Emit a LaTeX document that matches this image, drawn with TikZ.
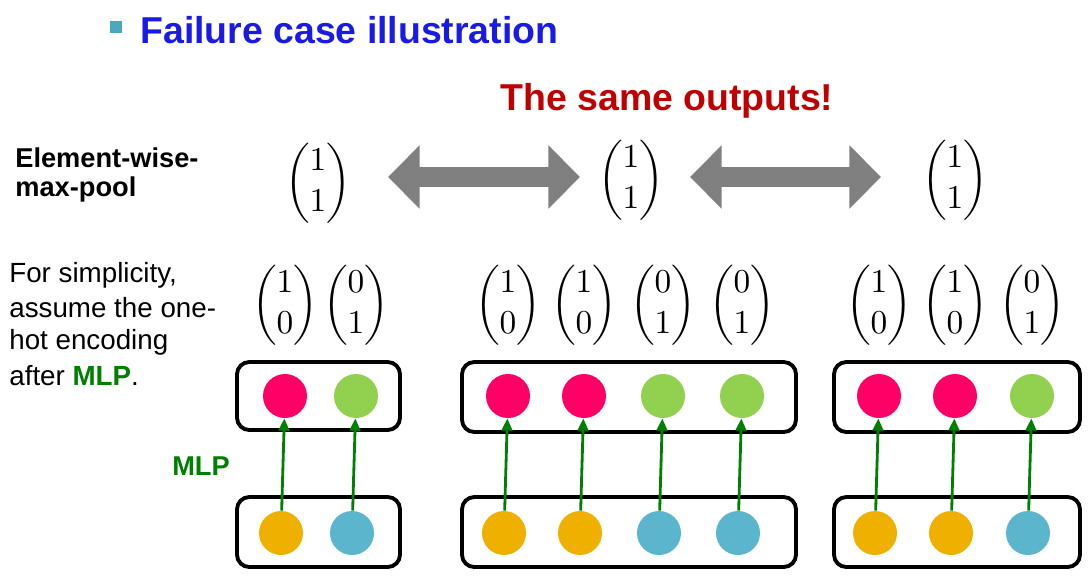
\documentclass[tikz,border=0pt]{standalone}
\usepackage{amsmath}
\usepackage{fontspec}
\setmainfont{Liberation Sans}
\usetikzlibrary{arrows.meta}
\definecolor{ttl}{HTML}{1A1AE6}
\definecolor{dred}{HTML}{C00000}
\definecolor{pk}{HTML}{FF0066}
\definecolor{gr}{HTML}{92D050}
\definecolor{og}{HTML}{F0B000}
\definecolor{bl}{HTML}{5BB5CC}
\definecolor{mlp}{HTML}{008000}
\definecolor{dar}{HTML}{808080}
\begin{document}
\begin{tikzpicture}[x=0.02cm,y=-0.02cm,
  vec/.style={inner sep=0,scale=1.9},
  box/.style={draw,line width=2.2pt,rounded corners=7pt},
  dot/.style={circle,inner sep=0,minimum size=0.88cm},
  up/.style={-{Triangle[length=7pt,width=6pt]},mlp,line width=1.6pt},
  dbl/.style={dar,line width=11pt,{Triangle[length=18pt,width=35pt]}-{Triangle[length=18pt,width=35pt]}},
  txt/.style={anchor=west,inner sep=0,font=\fontsize{15.8}{17}\selectfont}]
\useasboundingbox (0,0) rectangle (1091,583);
\fill[bl!80!teal] (110,21) rectangle (122,33);
\node[anchor=west,inner sep=0,text=ttl,font=\bfseries\fontsize{21.3}{23}\selectfont] (title) at (140,30) {Failure case illustration};
\node[text=dred,font=\bfseries\fontsize{21.3}{23}\selectfont,inner sep=0] (same) at (667,101) {The same outputs!};
\node[txt,font=\bfseries\fontsize{15.5}{17}\selectfont] (e1) at (15,158) {Element-wise-};
\node[txt,font=\bfseries\fontsize{15.5}{17}\selectfont] (e2) at (15,189) {max-pool};
\node[vec] (o1) at (318,183) {$\begin{pmatrix}1\\1\end{pmatrix}$};
\node[vec] (o2) at (631,180) {$\begin{pmatrix}1\\1\end{pmatrix}$};
\node[vec] (o3) at (955,180) {$\begin{pmatrix}1\\1\end{pmatrix}$};
\coordinate (a1) at (388,177); \coordinate (a2) at (580,177);
\coordinate (a3) at (690,177); \coordinate (a4) at (881,177);
\draw[dbl] (a1) -- (a2);
\draw[dbl] (a3) -- (a4);
\node[txt] (t1) at (9,275) {For simplicity,};
\node[txt] (t2) at (9,308) {assume the one-};
\node[txt] (t3) at (9,342) {hot encoding};
\node[txt] (t4) at (9,376) {after \textcolor{mlp}{\bfseries MLP}.};
\node[text=mlp,font=\bfseries\fontsize{15.5}{17}\selectfont] (mlpl) at (201,466) {MLP};
% boxes
\draw[box] (237,362) rectangle (400,430);
\draw[box] (462,362) rectangle (796,432);
\draw[box] (834,362) rectangle (1080,432);
\draw[box] (237,497) rectangle (400,567);
\draw[box] (462,497) rectangle (796,567);
\draw[box] (834,497) rectangle (1080,567);
% vectors, dots
\foreach \n/\x/\a/\b/\tc/\bc in {a/285/1/0/pk/og, b/356/0/1/gr/bl,
  c/508/1/0/pk/og, d/584/1/0/pk/og, e/663/0/1/gr/bl, f/742/0/1/gr/bl,
  g/879/1/0/pk/og, h/955/1/0/pk/og, i/1032/0/1/gr/bl}{
  \node[vec] (v\n) at (\x,305) {$\begin{pmatrix}\a\\\b\end{pmatrix}$};
  \node[dot,fill=\tc] (t\n) at (\x,396) {};
  \node[dot,fill=\bc] (b\n) at (\x-4,533) {};
  \draw[up] (b\n) -- (t\n);
}
\end{tikzpicture}
\end{document}
